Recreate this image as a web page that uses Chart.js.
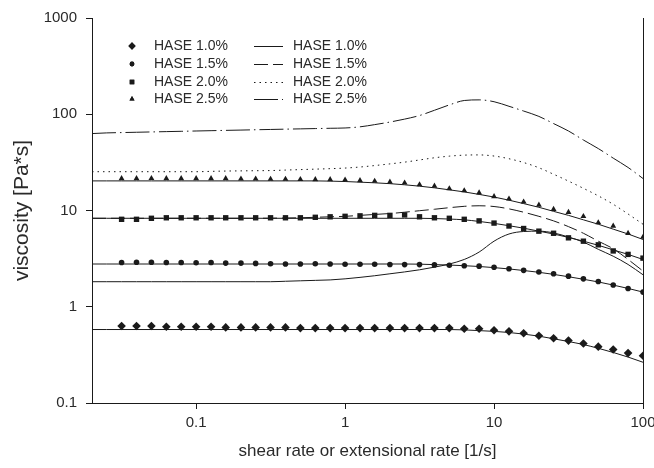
<!DOCTYPE html>
<html>
<head>
<meta charset="utf-8">
<script src="https://cdn.jsdelivr.net/npm/chart.js@4.4.1/dist/chart.umd.min.js"></script>
<style>
  html, body { margin: 0; padding: 0; background: #fff; }
</style>
</head>
<body>
<canvas id="chart" width="654" height="468"></canvas>
<script>
/* ---------- DATA ---------- */

// rates for the fitted / extensional curves (1/s)
const lineRates = [0.02, 0.0251, 0.0316, 0.0398, 0.0501, 0.0631, 0.0794, 0.1, 0.126, 0.158,
  0.2, 0.251, 0.316, 0.398, 0.501, 0.631, 0.794, 1, 1.26, 1.58,
  2, 2.51, 3.16, 3.98, 5.01, 6.31, 7.94, 10, 12.6, 15.8,
  20, 25.1, 31.6, 39.8, 50.1, 63.1, 79.4, 100];

// shear rates of the measured points (1/s)
const shearRates = [0.0316, 0.0398, 0.0501, 0.0631, 0.0794, 0.1, 0.126, 0.158,
  0.2, 0.251, 0.316, 0.398, 0.501, 0.631, 0.794, 1, 1.26, 1.58,
  2, 2.51, 3.16, 3.98, 5.01, 6.31, 7.94, 10, 12.6, 15.8,
  20, 25.1, 31.6, 39.8, 50.1, 63.1, 79.4, 100];

// measured shear viscosity [Pa*s]
const shear10 = [0.63, 0.63, 0.63, 0.62, 0.62, 0.62, 0.62, 0.61, 0.61, 0.61, 0.61, 0.61,
  0.6, 0.6, 0.6, 0.6, 0.6, 0.6, 0.6, 0.6, 0.6, 0.6, 0.6, 0.59, 0.59,
  0.57, 0.555, 0.53, 0.5, 0.47, 0.445, 0.415, 0.385, 0.36, 0.33, 0.31];
const shear15 = [2.88, 2.9, 2.9, 2.88, 2.88, 2.86, 2.88, 2.84, 2.84, 2.82, 2.8,
  2.78, 2.78, 2.8, 2.78, 2.76, 2.76, 2.76, 2.75, 2.74, 2.74,
  2.72, 2.7, 2.67, 2.64, 2.57, 2.48, 2.39, 2.3, 2.2, 2.08, 1.95, 1.83, 1.68, 1.55, 1.42];
const shear20 = [8.1, 8.1, 8.3, 8.4, 8.4, 8.4, 8.4, 8.4, 8.4, 8.4, 8.4, 8.4, 8.4,
  8.5, 8.6, 8.7, 8.8, 8.9, 8.9, 9.0,
  8.6, 8.4, 8.3, 8.1, 7.8, 7.4, 6.9, 6.5, 6.1, 5.8, 5.2, 4.8, 4.4, 3.8, 3.5, 3.2];
const shear25 = [21.5, 21.5, 21.6, 21.5, 21.5, 21.5, 21.5, 21.5, 21.3, 21.3,
  21.2, 21.2, 21.1, 21.0, 21.0, 20.8, 20.5, 20.2, 19.8, 19.4, 18.6, 18.0, 16.9, 16.1,
  15.3, 14.0, 13.2, 12.3, 11.4, 10.3, 9.6, 8.7, 7.5, 6.9, 5.8, 5.3];

// fitted shear curves through the points
const fit10 = [0.58, 0.58, 0.58, 0.58, 0.58, 0.58, 0.58, 0.58, 0.58, 0.58, 0.58, 0.58, 0.58,
  0.58, 0.58, 0.58, 0.58, 0.58, 0.58, 0.58, 0.58, 0.58, 0.58, 0.58, 0.58,
  0.575, 0.565, 0.555, 0.54, 0.52, 0.495, 0.465, 0.435, 0.405, 0.37, 0.335, 0.3, 0.265];
const fit15 = [2.78, 2.78, 2.78, 2.78, 2.78, 2.78, 2.78, 2.78, 2.78, 2.78, 2.78,
  2.78, 2.78, 2.78, 2.78, 2.78, 2.78, 2.78, 2.78, 2.78, 2.78, 2.78,
  2.77, 2.74, 2.71, 2.67, 2.62, 2.55, 2.47, 2.38, 2.28, 2.17, 2.05, 1.93, 1.81, 1.68, 1.55, 1.42];
const fit20 = [8.3, 8.3, 8.3, 8.3, 8.3, 8.3, 8.3, 8.3, 8.3, 8.3, 8.3, 8.3,
  8.3, 8.3, 8.3, 8.3, 8.3, 8.3, 8.3, 8.3, 8.3, 8.3, 8.3,
  8.25, 8.15, 8.0, 7.7, 7.35, 6.95, 6.55, 6.1, 5.7, 5.25, 4.8, 4.35, 3.9, 3.5, 3.1];
const fit25 = [20.3, 20.3, 20.3, 20.3, 20.3, 20.3, 20.3, 20.3, 20.3, 20.3, 20.3, 20.3,
  20.3, 20.3, 20.3, 20.3,
  20.2, 20.0, 19.7, 19.4, 19.0, 18.5, 17.9, 17.2, 16.4, 15.6, 14.7, 13.8, 12.8, 11.8,
  10.8, 9.8, 8.9, 8.0, 7.2, 6.4, 5.7, 5.0];

// extensional viscosity curves
const ext10 = [1.82, 1.82, 1.82, 1.82, 1.82, 1.82, 1.82, 1.82, 1.82, 1.82, 1.82, 1.82, 1.82,
  1.84, 1.86, 1.88, 1.9, 1.95, 2.02, 2.1, 2.2, 2.3, 2.42, 2.58, 2.78, 3.1, 3.7,
  4.8, 5.7, 6.05, 6.1, 5.85, 5.3, 4.7, 3.95, 3.35, 2.75, 2.15];
const ext15 = [8.3, 8.3, 8.3, 8.3, 8.3, 8.3, 8.3, 8.3, 8.3, 8.3, 8.3, 8.3,
  8.32, 8.35, 8.4, 8.5, 8.6, 8.7, 8.9, 9.1, 9.3, 9.6, 9.95, 10.3, 10.7, 11.05, 11.2,
  11.0, 10.4, 9.6, 8.7, 7.8, 6.8, 5.8, 4.8, 4.0, 3.1, 2.35];
const ext20 = [25.3, 25.3, 25.3, 25.3, 25.3, 25.3, 25.3, 25.3,
  25.5, 25.7, 25.8, 25.9, 26.0, 26.3, 26.6, 26.9, 27.2, 27.6, 28.3, 29.3, 30.5, 31.8,
  33.5, 35.3, 36.7, 37.6, 37.8, 36.8, 34.5, 31.5, 27.8, 23.8, 20.2, 17.0, 14.2, 11.6, 9.2, 7.2];
const ext25 = [63, 64, 64.5, 65, 65.5, 66, 66.5, 67, 67.5, 68, 68.5, 69, 69.5, 70, 70.5, 71, 71.5, 72,
  74, 78, 83, 89, 97, 110, 125, 139, 141, 135, 121, 108, 95, 80, 67, 54, 44, 35, 28, 21.5];

const seriesLabels = ["HASE 1.0%", "HASE 1.5%", "HASE 2.0%", "HASE 2.5%"];
const xTicks = [0.1, 1, 10, 100];
const yTicks = [0.1, 1, 10, 100, 1000];

/* ---------- STYLE ---------- */

const ink = "#1a1a1a";
const textInk = "#2a2a2a";
const fontFamily = '"Liberation Sans", Arial, sans-serif';

const pts = (xs, ys) => xs.map((x, i) => ({ x, y: ys[i] }));

function markerSet(label, values, style, radius, row) {
  return {
    label,
    data: pts(shearRates, values),
    showLine: false,
    pointStyle: style,
    pointRadius: radius,
    backgroundColor: ink,
    borderColor: ink,
    borderWidth: 0,
    legendCol: 0,
    legendRow: row,
    legendRadius: radius * 0.85,
  };
}

function curveSet(label, values, dash, row) {
  return {
    label,
    data: pts(lineRates, values),
    showLine: true,
    pointRadius: 0,
    borderColor: ink,
    borderWidth: 1,
    borderDash: dash,
    cubicInterpolationMode: "monotone",
    legendCol: row === null ? null : 1,
    legendRow: row,
  };
}

const datasets = [
  curveSet("fit 1.0%", fit10, [], null),
  curveSet("fit 1.5%", fit15, [], null),
  curveSet("fit 2.0%", fit20, [], null),
  curveSet("fit 2.5%", fit25, [], null),
  curveSet(seriesLabels[0], ext10, [], 0),
  curveSet(seriesLabels[1], ext15, [14, 5], 1),
  curveSet(seriesLabels[2], ext20, [1.5, 4], 2),
  curveSet(seriesLabels[3], ext25, [24, 4, 1.5, 4], 3),
  markerSet(seriesLabels[0], shear10, "rectRot", 4.3, 0),
  markerSet(seriesLabels[1], shear15, "circle", 2.8, 1),
  markerSet(seriesLabels[2], shear20, "rect", 3.8, 2),
  markerSet(seriesLabels[3], shear25, "triangle", 3.4, 3),
];

/* ---------- PLUGINS ---------- */

// right frame line
const frameRight = {
  id: "frameRight",
  afterDraw(chart) {
    const { ctx, chartArea } = chart;
    ctx.save();
    ctx.strokeStyle = ink;
    ctx.lineWidth = 1;
    ctx.beginPath();
    ctx.moveTo(Math.round(chartArea.right) + 0.5, chartArea.top);
    ctx.lineTo(Math.round(chartArea.right) + 0.5, chartArea.bottom);
    ctx.stroke();
    ctx.restore();
  },
};

// two-column legend inside the plot
const twoColLegend = {
  id: "twoColLegend",
  afterDraw(chart) {
    const { ctx } = chart;
    const rowY = [46, 64, 82, 99];
    ctx.save();
    ctx.font = "14px " + fontFamily;
    ctx.textBaseline = "middle";
    chart.data.datasets.forEach((ds) => {
      if (ds.legendCol === null || ds.legendCol === undefined) return;
      const y = rowY[ds.legendRow];
      ctx.fillStyle = ink;
      if (ds.legendCol === 0) {
        Chart.helpers.drawPoint(ctx, { pointStyle: ds.pointStyle, radius: ds.legendRadius, rotation: 0, borderWidth: 0 }, 132, y);
        ctx.fill();
        ctx.fillStyle = textInk;
        ctx.fillText(ds.label, 154, y);
      } else {
        ctx.strokeStyle = ink;
        ctx.lineWidth = 1;
        ctx.setLineDash(ds.borderDash);
        ctx.beginPath();
        ctx.moveTo(254, y + 0.5);
        ctx.lineTo(283, y + 0.5);
        ctx.stroke();
        ctx.setLineDash([]);
        ctx.fillStyle = textInk;
        ctx.fillText(ds.label, 293, y);
      }
    });
    ctx.restore();
  },
};

/* ---------- CHART ---------- */

new Chart(document.getElementById("chart"), {
  type: "scatter",
  data: { datasets },
  plugins: [frameRight, twoColLegend],
  options: {
    responsive: false,
    animation: false,
    layout: { padding: { top: 18, right: 11, left: 0, bottom: 0 } },
    plugins: { legend: { display: false }, tooltip: { enabled: false } },
    scales: {
      x: {
        type: "logarithmic",
        min: 0.02,
        max: 100,
        afterBuildTicks: (s) => { s.ticks = xTicks.map((v) => ({ value: v })); },
        afterFit: (s) => {
          s.height = 65;
          s.paddingLeft = 0;
          s.paddingRight = 0;
        },
        ticks: {
          callback: (v) => String(v),
          color: textInk,
          font: { family: fontFamily, size: 15 },
          padding: 5,
          maxRotation: 0,
        },
        grid: { drawOnChartArea: false, drawTicks: true, tickLength: 6, color: ink },
        border: { color: ink, width: 1 },
        title: {
          display: true,
          text: "shear rate or extensional rate [1/s]",
          color: textInk,
          font: { family: fontFamily, size: 17 },
          padding: { top: 0, bottom: 6 },
        },
      },
      y: {
        type: "logarithmic",
        min: 0.1,
        max: 1000,
        afterBuildTicks: (s) => { s.ticks = yTicks.map((v) => ({ value: v })); },
        afterFit: (s) => {
          s.width = 92;
          s.paddingTop = 0;
          s.paddingBottom = 0;
        },
        ticks: {
          callback: (v) => String(v),
          color: textInk,
          font: { family: fontFamily, size: 15 },
          padding: 9,
        },
        grid: { drawOnChartArea: false, drawTicks: true, tickLength: 6, color: ink },
        border: { color: ink, width: 1 },
        title: {
          display: true,
          text: "viscosity [Pa*s]",
          color: textInk,
          font: { family: fontFamily, size: 21 },
          padding: { top: 10, bottom: 0 },
        },
      },
    },
  },
});
</script>
</body>
</html>
